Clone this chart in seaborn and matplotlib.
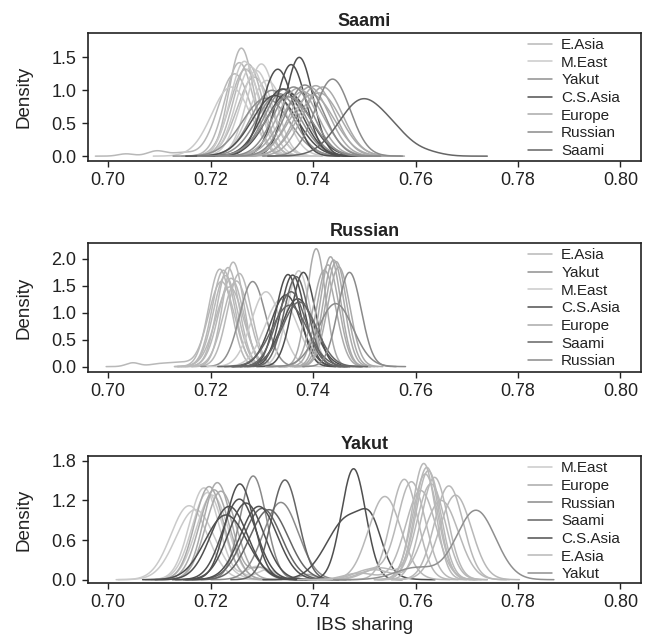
import numpy as np
import pandas as pd
import matplotlib
matplotlib.use('Agg')
import matplotlib.pyplot as plt
import seaborn as sns
from matplotlib.lines import Line2D

sns.set_theme(style='white')
plt.rcParams['font.family'] = ['Liberation Sans', 'DejaVu Sans']

group_colors = {
    'E.Asia': '#b8b8b8',
    'M.East': '#cacaca',
    'Yakut': '#8f8f8f',
    'C.S.Asia': '#4f4f4f',
    'Europe': '#aaaaaa',
    'Russian': '#8a8a8a',
    'Saami': '#656565',
}

# ---- Saami panel: peak IBS sharing and peak density of each curve
saami_order = ['E.Asia', 'M.East', 'Yakut', 'C.S.Asia', 'Europe', 'Russian', 'Saami']
saami_groups = (['E.Asia'] * 6 + ['M.East'] * 6 + ['Yakut'] * 4 + ['C.S.Asia'] * 6
                + ['Europe'] * 7 + ['Russian'] * 4 + ['Saami'])
saami_peaks = [0.7260, 0.7256, 0.7273, 0.7247, 0.7268, 0.7285,
               0.7266, 0.7299, 0.7289, 0.7279, 0.7310, 0.7240,
               0.7320, 0.7333, 0.7345, 0.7308,
               0.7373, 0.7357, 0.7331, 0.7340, 0.7325, 0.7352,
               0.7393, 0.7405, 0.7419, 0.7380, 0.7412, 0.7370, 0.7398,
               0.7438, 0.7362, 0.7384, 0.7352,
               0.7497]
saami_heights = [1.64, 1.42, 1.40, 1.25, 1.32, 1.20,
                 1.44, 1.40, 1.30, 1.35, 1.15, 1.05,
                 1.00, 0.95, 1.02, 0.88,
                 1.50, 1.39, 1.32, 1.02, 0.92, 0.96,
                 1.05, 1.07, 1.05, 0.98, 0.96, 1.03, 0.93,
                 1.17, 1.05, 1.08, 0.90,
                 0.86]
# small side bumps (curve index, location, height, spread)
saami_bump_curve = [3, 3, 3, 33, 33]
saami_bump_loc = [0.7035, 0.7095, 0.7145, 0.7565, 0.7620]
saami_bump_height = [0.035, 0.08, 0.05, 0.15, 0.06]
saami_bump_spread = [0.0015, 0.0018, 0.002, 0.003, 0.003]

# ---- Russian panel
russian_order = ['E.Asia', 'Yakut', 'M.East', 'C.S.Asia', 'Europe', 'Saami', 'Russian']
russian_groups = (['E.Asia'] * 10 + ['Yakut'] + ['M.East'] * 3 + ['C.S.Asia'] * 5
                  + ['Europe'] * 7 + ['Saami'] * 4 + ['Russian'] * 2)
russian_peaks = [0.7244, 0.7225, 0.7234, 0.7218, 0.7256, 0.7229, 0.7240, 0.7250, 0.7221, 0.7237,
                 0.7282,
                 0.7308, 0.7372, 0.7338,
                 0.7351, 0.7360, 0.7381, 0.7347, 0.7370,
                 0.7406, 0.7434, 0.7440, 0.7445, 0.7429, 0.7422, 0.7450,
                 0.7367, 0.7357, 0.7373, 0.7354,
                 0.7471, 0.7444]
russian_heights = [1.94, 1.79, 1.84, 1.81, 1.73, 1.69, 1.64, 1.59, 1.58, 1.48,
                   1.58,
                   1.39, 1.78, 1.25,
                   1.71, 1.70, 1.75, 1.33, 1.26,
                   2.19, 2.04, 1.98, 1.95, 1.89, 1.79, 1.85,
                   1.67, 1.39, 1.20, 1.14,
                   1.75, 1.17]
russian_bump_curve = [8, 8, 8]
russian_bump_loc = [0.7048, 0.7100, 0.7140]
russian_bump_height = [0.07, 0.05, 0.07]
russian_bump_spread = [0.0013, 0.002, 0.002]

# ---- Yakut panel
yakut_order = ['M.East', 'Europe', 'Russian', 'Saami', 'C.S.Asia', 'E.Asia', 'Yakut']
yakut_groups = (['M.East'] * 5 + ['Europe'] * 4 + ['Russian'] * 2 + ['Saami'] * 3
                + ['C.S.Asia'] * 8 + ['E.Asia'] * 13 + ['Yakut'])
yakut_peaks = [0.7158, 0.7170, 0.7187, 0.7194, 0.7203,
               0.7197, 0.7213, 0.7207, 0.7220,
               0.7283, 0.7337,
               0.7345, 0.7301, 0.7314,
               0.7257, 0.7256, 0.7294, 0.7230, 0.7236, 0.7269, 0.7479, 0.7470,
               0.7540, 0.7578, 0.7592, 0.7616, 0.7622, 0.7625, 0.7619, 0.7637,
               0.7610, 0.7665, 0.7678, 0.7650, 0.7630,
               0.7718]
yakut_heights = [1.12, 1.06, 1.39, 1.32, 1.28,
                 1.41, 1.47, 1.36, 1.34,
                 1.57, 1.17,
                 1.51, 1.08, 1.06,
                 1.45, 1.22, 1.11, 0.98, 1.11, 1.16, 1.68, 0.95,
                 1.26, 1.52, 1.48, 1.76, 1.70, 1.65, 1.60, 1.55,
                 1.35, 1.42, 1.28, 1.20, 1.45,
                 1.05]
yakut_bump_curve = [2, 6, 7, 3, 21, 24, 27, 30, 33, 35]
yakut_bump_loc = [0.7290, 0.7300, 0.7390, 0.7310, 0.7515, 0.7510, 0.7530, 0.7490, 0.7520, 0.7600]
yakut_bump_height = [0.20, 0.18, 0.08, 0.15, 0.45, 0.15, 0.18, 0.10, 0.15, 0.18]
yakut_bump_spread = [0.002, 0.002, 0.0015, 0.002, 0.002, 0.003, 0.003, 0.003, 0.003, 0.004]

panels = [
    ('Saami', saami_order, saami_groups, saami_peaks, saami_heights,
     (saami_bump_curve, saami_bump_loc, saami_bump_height, saami_bump_spread),
     [0.0, 0.5, 1.0, 1.5], (-0.076, 1.874), [0.1337, 0.749, 0.8434, 0.200]),
    ('Russian', russian_order, russian_groups, russian_peaks, russian_heights,
     (russian_bump_curve, russian_bump_loc, russian_bump_height, russian_bump_spread),
     [0.0, 0.5, 1.0, 1.5, 2.0], (-0.095, 2.29), [0.1337, 0.421, 0.8434, 0.200]),
    ('Yakut', yakut_order, yakut_groups, yakut_peaks, yakut_heights,
     (yakut_bump_curve, yakut_bump_loc, yakut_bump_height, yakut_bump_spread),
     [0.0, 0.6, 1.2, 1.8], (-0.055, 1.87), [0.1337, 0.0914, 0.8434, 0.198]),
]


def density_frame(groups, peaks, heights, bumps):
    # each curve is a density on the percent scale, so its spread follows its peak height
    rows = []
    bc, bl, bh, bs = bumps
    for i, (g, c, h) in enumerate(zip(groups, peaks, heights)):
        sd = 0.01 / (np.sqrt(2 * np.pi) * h)
        comps = [(c, h, sd)] + [(bl[k], bh[k], bs[k]) for k in range(len(bc)) if bc[k] == i]
        lo = min(m - 4 * s for m, _, s in comps)
        hi = max(m + 4 * s for m, _, s in comps)
        x = np.linspace(lo, hi, 300)
        y = sum(a * np.exp(-0.5 * ((x - m) / s) ** 2) for m, a, s in comps)
        rows.append(pd.DataFrame({'x': x, 'density': y, 'group': g, 'curve': i}))
    return pd.concat(rows, ignore_index=True)


xticks = [0.70, 0.72, 0.74, 0.76, 0.78, 0.80]

fig = plt.figure(figsize=(6.56, 6.42), dpi=100)

for title, order, groups, peaks, heights, bumps, yticks, ylim, rect in panels:
    ax = fig.add_axes(rect)
    df = density_frame(groups, peaks, heights, bumps)
    sns.lineplot(data=df, x='x', y='density', hue='group', units='curve', estimator=None,
                 hue_order=order, palette=group_colors, linewidth=1.1, sort=False,
                 legend=False, ax=ax)
    ax.set_xlim(0.696, 0.804)
    ax.set_ylim(*ylim)
    ax.set_xticks(xticks)
    ax.set_xticklabels(['%.2f' % v for v in xticks])
    ax.set_yticks(yticks)
    ax.set_yticklabels(['%.1f' % v for v in yticks])
    ax.tick_params(direction='out', length=4, width=1, labelsize=13, pad=4,
                   left=True, bottom=True, colors='#222222')
    for sp in ax.spines.values():
        sp.set_color('#222222')
        sp.set_linewidth(1.2)
    ax.set_title(title, fontsize=13, fontweight='bold', pad=5, color='#222222')
    ax.set_ylabel('Density', fontsize=13.5, labelpad=14, color='#222222')
    ax.set_xlabel('')
    handles = [Line2D([], [], color=group_colors[g], lw=1.1) for g in order]
    ax.legend(handles, order, loc='upper left', bbox_to_anchor=(0.795, 0.96), frameon=False,
              fontsize=11, handlelength=1.6, handletextpad=0.6, labelspacing=0.24,
              borderpad=0, borderaxespad=0, labelcolor='#222222')

ax.set_xlabel('IBS sharing', fontsize=13.5, labelpad=4, color='#222222')

fig.savefig('out.png', dpi=100)
